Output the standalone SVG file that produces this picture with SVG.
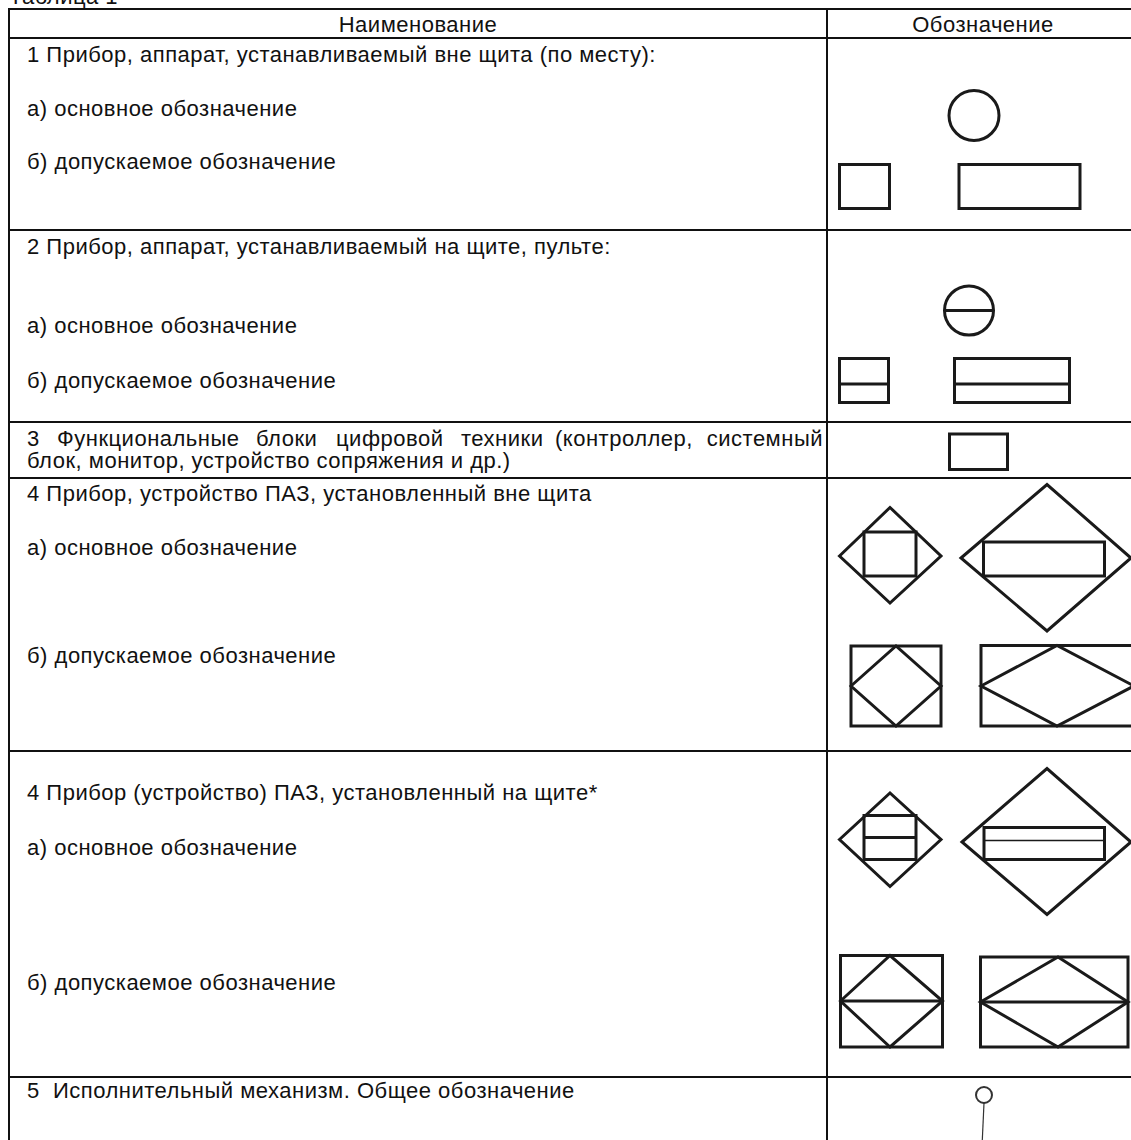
<svg xmlns="http://www.w3.org/2000/svg" width="1131" height="1140" viewBox="0 0 1131 1140">
<style>
text{font-family:"Liberation Sans",Arial,sans-serif;font-size:22px;letter-spacing:0.5px;fill:#111}
.grid line{stroke:#111;stroke-width:2}
.sym{fill:none;stroke:#1a1a1a;stroke-width:3;stroke-linejoin:miter}
.thin{fill:none;stroke:#1a1a1a;stroke-width:1.5}
</style>
<rect width="1131" height="1140" fill="#fff"/>
<text x="9" y="4">Таблица 1</text>
<g id="table" class="grid">
<line x1="9" y1="9" x2="1131" y2="9"/>
<line x1="9" y1="38" x2="1131" y2="38"/>
<line x1="9" y1="230" x2="1131" y2="230"/>
<line x1="9" y1="422" x2="1131" y2="422"/>
<line x1="9" y1="478" x2="1131" y2="478"/>
<line x1="9" y1="751" x2="1131" y2="751"/>
<line x1="9" y1="1077" x2="1131" y2="1077"/>
<line x1="9" y1="8" x2="9" y2="1140"/>
<line x1="827" y1="8" x2="827" y2="1140"/>
</g>
<g id="header">
<text x="418" y="32" text-anchor="middle">Наименование</text>
<text x="983" y="32" text-anchor="middle">Обозначение</text>
</g>
<g id="row1">
<text x="27" y="62">1 Прибор, аппарат, устанавливаемый вне щита (по месту):</text>
<text x="27" y="116">а) основное обозначение</text>
<text x="27" y="169">б) допускаемое обозначение</text>
<circle class="sym" cx="974" cy="115.5" r="25"/>
<rect class="sym" x="839.5" y="164.5" width="50" height="44"/>
<rect class="sym" x="959" y="164.5" width="121" height="44"/>
</g>
<g id="row2">
<text x="27" y="254">2 Прибор, аппарат, устанавливаемый на щите, пульте:</text>
<text x="27" y="333">а) основное обозначение</text>
<text x="27" y="388">б) допускаемое обозначение</text>
<circle class="sym" cx="969" cy="310.5" r="24.5"/>
<line class="sym" x1="944.5" y1="310.5" x2="993.5" y2="310.5"/>
<rect class="sym" x="839.5" y="358.5" width="49" height="44"/>
<line class="sym" x1="839.5" y1="384" x2="888.5" y2="384"/>
<rect class="sym" x="954.5" y="358.5" width="115" height="44"/>
<line class="sym" x1="954.5" y1="384" x2="1069.5" y2="384"/>
</g>
<g id="row3">
<text y="446"><tspan x="27">3</tspan><tspan x="57">Функциональные</tspan><tspan x="256">блоки</tspan><tspan x="336">цифровой</tspan><tspan x="461">техники</tspan><tspan x="555">(контроллер,</tspan><tspan x="823" text-anchor="end">системный</tspan></text>
<text x="27" y="468">блок, монитор, устройство сопряжения и др.)</text>
<rect class="sym" x="949.5" y="434" width="58" height="35.5"/>
</g>
<g id="row4">
<text x="27" y="501">4 Прибор, устройство ПАЗ, установленный вне щита</text>
<text x="27" y="555">а) основное обозначение</text>
<text x="27" y="663">б) допускаемое обозначение</text>
<polygon class="sym" points="839.5,556 890,507.5 941,556 890,603"/>
<rect class="sym" x="864" y="532" width="52" height="44"/>
<polygon class="sym" points="961,558 1047,484.5 1131,558 1047,631"/>
<rect class="sym" x="983.5" y="542" width="121" height="34"/>
<rect class="sym" x="851" y="646" width="90" height="80"/>
<polygon class="sym" points="851,686 896,646 941,686 896,726"/>
<rect class="sym" x="981" y="645.5" width="153" height="80.5"/>
<polygon class="sym" points="981,686 1057,645.5 1134,686 1057,726"/>
</g>
<g id="row5">
<text x="27" y="800">4 Прибор (устройство) ПАЗ, установленный на щите*</text>
<text x="27" y="855">а) основное обозначение</text>
<text x="27" y="990">б) допускаемое обозначение</text>
<polygon class="sym" points="839.5,839.5 890,793 941,839.5 890,886.5"/>
<rect class="sym" x="864" y="815.5" width="52" height="44"/>
<line class="sym" x1="864" y1="837.5" x2="916" y2="837.5"/>
<polygon class="sym" points="962,842 1047,768.5 1131,842 1047,914.5"/>
<rect class="sym" x="984" y="827.5" width="120.5" height="32"/>
<line class="thin" x1="984" y1="840.5" x2="1104.5" y2="840.5"/>
<rect class="sym" x="840.5" y="955.5" width="102" height="91.5"/>
<polygon class="sym" points="840.5,1001 890,955.5 942.5,1001 890,1047"/>
<line class="sym" x1="840.5" y1="1001" x2="942.5" y2="1001"/>
<rect class="sym" x="980.5" y="957" width="147.5" height="90"/>
<polygon class="sym" points="980.5,1002 1058,957 1128,1002 1058,1047"/>
<line class="sym" x1="980.5" y1="1002" x2="1128" y2="1002"/>
</g>
<g id="row6">
<text x="27" y="1098" xml:space="preserve">5  Исполнительный механизм. Общее обозначение</text>
<circle cx="984" cy="1095" r="8" fill="none" stroke="#333" stroke-width="2"/>
<line x1="984" y1="1103" x2="982.3" y2="1140" stroke="#333" stroke-width="1.2"/>
</g>
</svg>
